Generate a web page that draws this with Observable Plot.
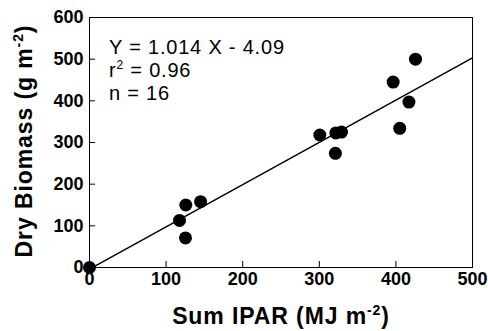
<!DOCTYPE html>
<html><head><meta charset="utf-8">
<script src="https://cdn.jsdelivr.net/npm/d3@7"></script>
<script src="https://cdn.jsdelivr.net/npm/@observablehq/plot@0.6"></script>
<style>body{margin:0;background:#fff;} svg{display:block;}</style>
</head><body><div id="chart"></div>
<script>
const ipar =    [0, 117.5, 125.7, 125.3, 145, 300.7, 321.6, 329, 321, 396.4, 405, 417, 425.6];
const biomass = [0, 113,   150,   71,    158, 318,   323,   325, 274, 445,   334, 397, 500];
const xTicks = [0, 100, 200, 300, 400, 500];
const yTicks = [0, 100, 200, 300, 400, 500, 600];
const slope = 1.014, intercept = -4.09;
const fitX = [0, 500];
const annot = ["Y = 1.014 X - 4.09", "r2 = 0.96", "n = 16"];

const pts = ipar.map((x, i) => ({x, y: biomass[i]}));
const fit = fitX.map(x => ({x, y: slope * x + intercept}));

const font = "Liberation Sans, Arial, sans-serif";
const plot = Plot.plot({
  width: 488, height: 331,
  marginLeft: 89, marginRight: 16, marginTop: 17, marginBottom: 64,
  style: {fontFamily: font, background: "#fff", color: "#000"},
  x: {domain: [0, 500]},
  y: {domain: [0, 600]},
  marks: [
    Plot.frame({stroke: "#000", strokeWidth: 1}),
    Plot.axisX(xTicks, {tickSize: -6, tickPadding: 11, fontSize: 18, fontWeight: "bold", label: null}),
    Plot.axisY(yTicks, {tickSize: -6, tickPadding: 12, fontSize: 18, fontWeight: "bold", label: null}),
    Plot.line(fit, {x: "x", y: "y", stroke: "#000", strokeWidth: 1.5}),
    Plot.dot(pts, {x: "x", y: "y", r: 6.5, fill: "#000", stroke: "none"})
  ]
});
const svg = d3.select(plot);
// annotation
const ann = svg.append("g").attr("font-family", font).attr("font-size", 20).attr("letter-spacing", 0.8).attr("fill", "#000").attr("text-anchor", "start");
ann.append("text").attr("x", 109).attr("y", 54).text(annot[0]);
const t2 = ann.append("text").attr("x", 109).attr("y", 77);
t2.append("tspan").text("r");
t2.append("tspan").attr("dy", -8).attr("font-size", 12).text("2");
t2.append("tspan").attr("dy", 8).text(" = 0.96");
ann.append("text").attr("x", 109).attr("y", 100).text(annot[2]);
// axis labels
const xl = svg.append("text").attr("x", 281).attr("y", 324).attr("text-anchor", "middle")
  .attr("font-family", font).attr("font-size", 23).attr("font-weight", "bold").attr("letter-spacing", 0.9);
xl.append("tspan").text("Sum IPAR (MJ m");
xl.append("tspan").attr("dy", -9).attr("font-size", 14).text("-2");
xl.append("tspan").attr("dy", 9).text(")");
const yl = svg.append("text").attr("transform", "translate(32,141) rotate(-90)").attr("text-anchor", "middle")
  .attr("font-family", font).attr("font-size", 23).attr("font-weight", "bold").attr("letter-spacing", 0.9);
yl.append("tspan").text("Dry Biomass (g m");
yl.append("tspan").attr("dy", -9).attr("font-size", 14).text("-2");
yl.append("tspan").attr("dy", 9).text(")");
document.getElementById("chart").appendChild(plot);
</script></body></html>
